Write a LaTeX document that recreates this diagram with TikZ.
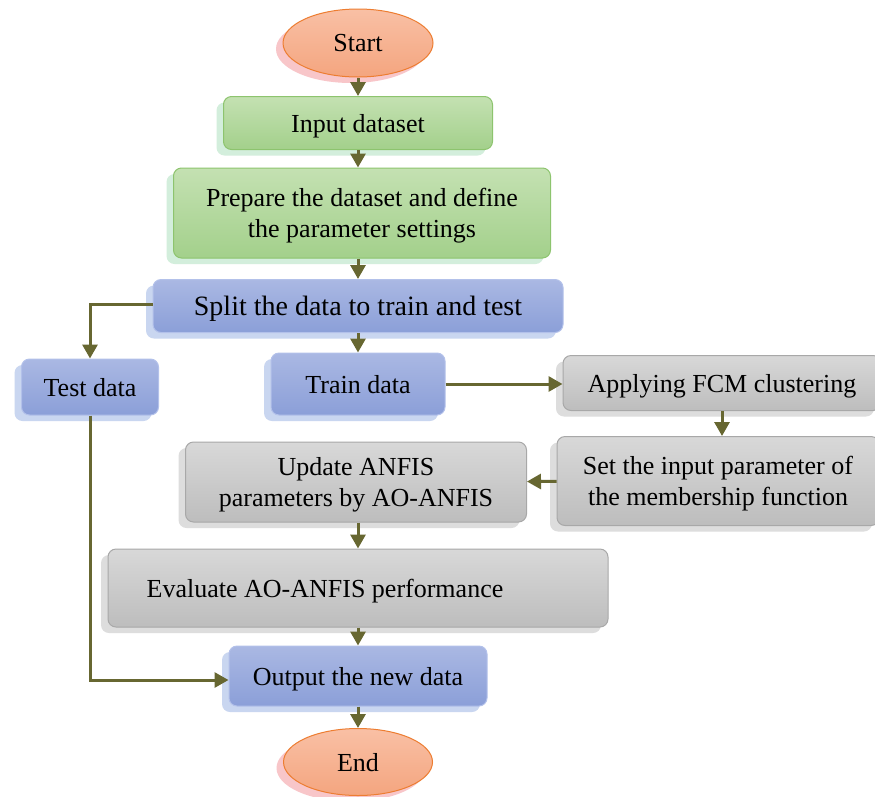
\documentclass[tikz,border=0pt]{standalone}
\usepackage{fontspec}
\setmainfont{Liberation Serif}
\usetikzlibrary{arrows.meta,shadows,shapes.geometric}

\definecolor{greentop}{HTML}{C4E1B2}
\definecolor{greenbot}{HTML}{A3D08B}
\definecolor{greenline}{HTML}{8DC46E}
\definecolor{greenshadow}{HTML}{D3EEDC}
\definecolor{bluetop}{HTML}{AAB8E3}
\definecolor{bluebot}{HTML}{8B9FD8}
\definecolor{blueline}{HTML}{B3C1EA}
\definecolor{blueshadow}{HTML}{C9D6F0}
\definecolor{graytop}{HTML}{D8D8D8}
\definecolor{graybot}{HTML}{BDBDBD}
\definecolor{grayline}{HTML}{A8A8A8}
\definecolor{grayshadow}{HTML}{DDDDDD}
\definecolor{orangetop}{HTML}{F9C0A5}
\definecolor{orangebot}{HTML}{F4A57F}
\definecolor{orangeline}{HTML}{ED7D31}
\definecolor{pinkshadow}{HTML}{F8C6C9}
\definecolor{arrowcol}{HTML}{676731}

\begin{document}
\begin{tikzpicture}[
  x=1pt,
  y=-1pt,
  font=\fontsize{26}{31}\selectfont,
  box/.style={rounded corners=8pt, line width=1pt, align=center, inner sep=0pt, text depth=0pt},
  greenbox/.style={box, draw=greenline, top color=greentop, bottom color=greenbot,
    drop shadow={shadow xshift=-7pt, shadow yshift=-6pt, fill=greenshadow, opacity=1}},
  bluebox/.style={box, draw=blueline, top color=bluetop, bottom color=bluebot,
    drop shadow={shadow xshift=-7pt, shadow yshift=-6pt, fill=blueshadow, opacity=1}},
  graybox/.style={box, draw=grayline, top color=graytop, bottom color=graybot,
    drop shadow={shadow xshift=-7pt, shadow yshift=-6pt, fill=grayshadow, opacity=1}},
  terminal/.style={ellipse, line width=1pt, draw=orangeline, top color=orangetop, bottom color=orangebot,
    inner sep=0pt, text depth=0pt, minimum width=150, minimum height=68,
    drop shadow={shadow xshift=-7pt, shadow yshift=-6pt, fill=pinkshadow, opacity=1}},
  flow/.style={-{Triangle[length=14pt,width=15pt]}, line width=3pt, draw=arrowcol}
]

% White background
\fill[white] (0,0) rectangle (875,796);
\useasboundingbox (0,0) rectangle (875,796);

% Main column
\node[terminal] (start) at (358,43) {Start};
\node[greenbox, minimum width=269, minimum height=53] (input) at (358,123) {Input dataset};
\node[greenbox, minimum width=377, minimum height=90] (prepare) at (362,213)
  {Prepare the dataset and define\\the parameter settings};
\node[bluebox, minimum width=410, minimum height=53, font=\fontsize{28}{33}\selectfont] (split) at (358,306)
  {Split the data to train and test};

% Test / train
\node[bluebox, minimum width=137, minimum height=56] (test) at (90,387) {Test data};
\node[bluebox, minimum width=174, minimum height=62] (train) at (358,384) {Train data};

% Right branch
\node[graybox, minimum width=318, minimum height=55] (fcm) at (722,383) {Applying FCM clustering};
\node[graybox, minimum width=322, minimum height=89] (setin) at (718,481)
  {Set the input parameter of\\the membership function};
\node[graybox, minimum width=341, minimum height=80] (update) at (356,482)
  {Update ANFIS\\parameters by AO-ANFIS};
\node[graybox, minimum width=500, minimum height=78] (evaluate) at (358,588)
  {Evaluate AO-ANFIS performance\hspace{66pt}};

% Output / end
\node[bluebox, minimum width=258, minimum height=60] (output) at (358,676) {Output the new data};
\node[terminal, minimum width=149, minimum height=67] (end) at (358,762) {End};

% Connectors
\draw[flow] (start) -- (input);
\draw[flow] (input) -- (input |- prepare.north);
\draw[flow] (prepare.south -| split) -- (split);
\draw[flow] (split) -- (train);
\draw[flow] ([yshift=2pt]split.west) -| (test.north);
\draw[flow] (train) -- (train -| fcm.west);
\draw[flow] (fcm.south) -- (fcm.south |- setin.north);
\draw[flow] (setin) -- (update);
\draw[flow] (update.south -| evaluate) -- (evaluate);
\draw[flow] (evaluate) -- (output);
\draw[flow] (output) -- (end);
\draw[flow] (test.south) |- ([yshift=-4pt]output.west);

\end{tikzpicture}
\end{document}
